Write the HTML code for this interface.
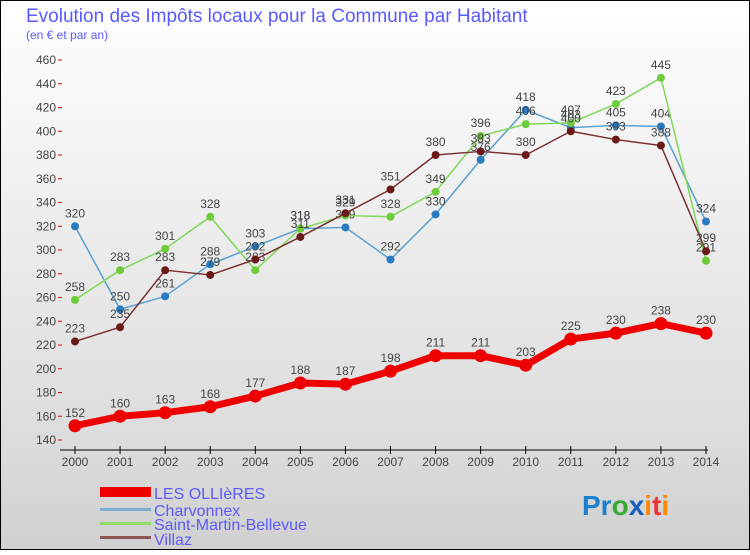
<!DOCTYPE html>
<html><head><meta charset="utf-8"><style>
body{margin:0;background:#fff}
svg text{font-family:"Liberation Sans",sans-serif}
</style></head><body>
<svg id="chart" width="750" height="550" xmlns="http://www.w3.org/2000/svg">
<defs>
<linearGradient id="outer" x1="0" y1="0" x2="0" y2="1"><stop offset="0" stop-color="#ffffff"/><stop offset="0.8" stop-color="#dcdcdc"/><stop offset="1" stop-color="#d0d0d0"/></linearGradient>
</defs>
<rect x="0.5" y="0.5" width="749" height="549" fill="url(#outer)" stroke="#000"/>
<text x="26" y="22" font-size="19" fill="#5a5aff">Evolution des Impôts locaux pour la Commune par Habitant</text>
<text x="26" y="39" font-size="12" fill="#5a5aff">(en € et par an)</text>
<g id="axes"></g>
<g id="series"></g>
<g>
<rect x="100" y="487" width="51" height="10" fill="#e00"/>
<text x="154" y="499" font-size="16" fill="#5a5aff">LES OLLIèRES</text>
<rect x="100" y="508" width="51" height="3" fill="#7aaed0"/>
<text x="154" y="516" font-size="16" fill="#5a5aff">Charvonnex</text>
<rect x="100" y="522" width="51" height="3" fill="#90dc6a"/>
<text x="154" y="530" font-size="16" fill="#5a5aff">Saint-Martin-Bellevue</text>
<rect x="100" y="536" width="51" height="3" fill="#8b5555"/>
<text x="154" y="545" font-size="16" fill="#5a5aff">Villaz</text>
</g>
<text x="582" y="515" font-size="28" font-weight="bold"><tspan fill="#1a7fd0">Pr</tspan><tspan fill="#3a3">o</tspan><tspan fill="#1a5fc0">x</tspan><tspan fill="#f80">i</tspan><tspan fill="#e33">t</tspan><tspan fill="#f80">i</tspan></text>
</svg>
<script>
const years=[2000,2001,2002,2003,2004,2005,2006,2007,2008,2009,2010,2011,2012,2013,2014];
const yTicks=[140,160,180,200,220,240,260,280,300,320,340,360,380,400,420,440,460];
const olliers=[152,160,163,168,177,188,187,198,211,211,203,225,230,238,230];
const charvonnex=[320,250,261,288,303,318,319,292,330,376,418,403,405,404,324];
const saintMartin=[258,283,301,328,283,318,329,328,349,396,406,407,423,445,291];
const villaz=[223,235,283,279,292,311,331,351,380,383,380,400,393,388,299];
const NS="http://www.w3.org/2000/svg";
const xs=i=>75+i*(706-75)/14;
const ys=v=>440-(v-140)*380/320;
function mk(t,a,p){const e=document.createElementNS(NS,t);for(const k in a)e.setAttribute(k,a[k]);p.appendChild(e);return e;}
const ax=document.getElementById('axes');
mk('line',{x1:60,y1:450,x2:708,y2:450,stroke:'#000','stroke-width':1},ax);
yTicks.forEach(v=>{
 const g=mk('line',{x1:58,y1:ys(v),x2:62,y2:ys(v),stroke:'#e00'},ax);
 
 
 const t=mk('text',{x:56,y:ys(v)+4,'font-size':12,fill:'#444','text-anchor':'end'},ax);
 
 
 t.textContent=v;
});
years.forEach((y,i)=>{
 mk('line',{x1:xs(i),y1:446,x2:xs(i),y2:454,stroke:'#000'},ax);
 const t=mk('text',{x:xs(i),y:466,'font-size':12,fill:'#444','text-anchor':'middle'},ax);
 
 
 t.textContent=y;
});
const sg=document.getElementById('series');
function draw(arr,color,dot,w,r,name){
 const g=mk('g',{},sg);
 
 
 mk('polyline',{points:arr.map((v,i)=>xs(i)+','+ys(v)).join(' '),fill:'none',stroke:color,'stroke-width':w,'stroke-linejoin':'round'},g);
 arr.forEach((v,i)=>{
  const c=mk('circle',{cx:xs(i),cy:ys(v),r:r,fill:dot},g);
  
  
  const t=mk('text',{x:xs(i),y:ys(v)-9,'font-size':12,fill:'#444','text-anchor':'middle'},g);
  
  
  t.textContent=v;
 });
}
draw(charvonnex,'#5aa0d0','#2a7bbf',1.5,4,'charvonnex-series');
draw(saintMartin,'#80d858','#6ccc3a',1.5,4,'saint-martin-series');
draw(villaz,'#7a3030','#6a1818',1.5,4,'villaz-series');
draw(olliers,'#ee0000','#ee0000',7,6.5,'les-ollieres-series');
</script>
</body></html>
